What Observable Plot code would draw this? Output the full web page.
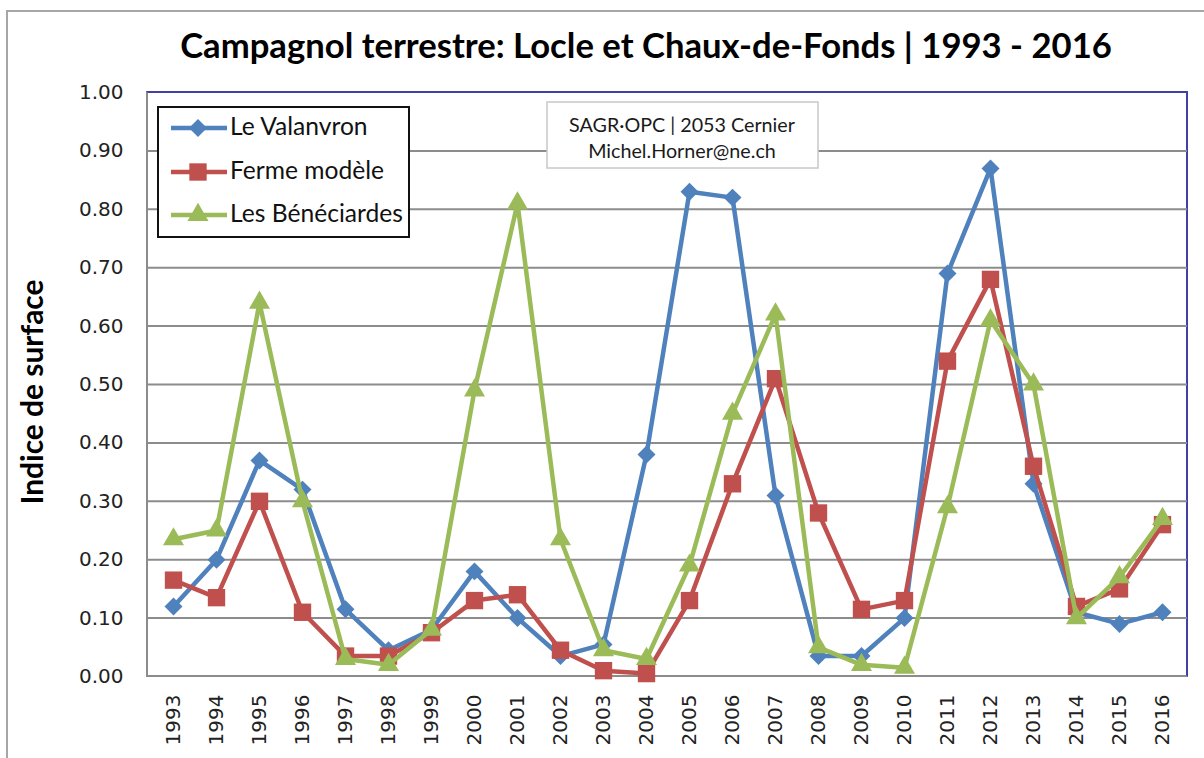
<!DOCTYPE html>
<html>
<head>
<meta charset="utf-8">
<script src="https://cdn.jsdelivr.net/npm/d3@7"></script>
<script src="https://cdn.jsdelivr.net/npm/@observablehq/plot@0.6"></script>
<style>
  body { margin: 0; background: #fff; }
  #chart { position: relative; width: 1204px; height: 758px; overflow: hidden; background: #fff; }
  #outer { position: absolute; left: 6px; top: 10px; width: 1210px; height: 760px; border-left: 2px solid #a6a6a6; border-top: 2px solid #a6a6a6; }
  #plotframe { position: absolute; left: 146px; top: 91px; width: 1042px; height: 586px; box-sizing: border-box;
    border-top: 2px solid #4040a8; border-right: 2px solid #4040a8; border-left: 2px solid #8c8c8c; border-bottom: 2px solid #8c8c8c; }
  #plot { position: absolute; left: 0; top: 0; }
  #overlay { position: absolute; left: 0; top: 0; }
</style>
</head>
<body>
<div id="chart">
  <div id="outer"></div>
  <div id="plotframe"></div>
  <div id="plot"></div>
  <svg id="overlay" width="1204" height="758"></svg>
</div>
<script>
// ---- Data ----
const years = ["1993","1994","1995","1996","1997","1998","1999","2000","2001","2002","2003","2004",
               "2005","2006","2007","2008","2009","2010","2011","2012","2013","2014","2015","2016"];
const valanvron   = [0.12, 0.20, 0.37, 0.32, 0.115, 0.045, 0.08, 0.18, 0.10, 0.035, 0.055, 0.38,
                     0.83, 0.82, 0.31, 0.035, 0.035, 0.10, 0.69, 0.87, 0.33, 0.11, 0.09, 0.11];
const fermeModele = [0.165, 0.135, 0.30, 0.11, 0.035, 0.035, 0.075, 0.13, 0.14, 0.045, 0.01, 0.005,
                     0.13, 0.33, 0.51, 0.28, 0.115, 0.13, 0.54, 0.68, 0.36, 0.12, 0.15, 0.26];
const beneciardes = [0.235, 0.25, 0.64, 0.30, 0.03, 0.02, 0.08, 0.49, 0.81, 0.235, 0.045, 0.03,
                     0.19, 0.45, 0.62, 0.05, 0.02, 0.015, 0.29, 0.61, 0.50, 0.10, 0.17, 0.27];
const seriesNames = ["Le Valanvron", "Ferme modèle", "Les Bénéciardes"];
const yTicks = [0, 0.1, 0.2, 0.3, 0.4, 0.5, 0.6, 0.7, 0.8, 0.9, 1.0];
const gridTicks = [0.1, 0.2, 0.3, 0.4, 0.5, 0.6, 0.7, 0.8, 0.9];
const titleText = "Campagnol terrestre: Locle et Chaux-de-Fonds | 1993 - 2016";
const yLabel = "Indice de surface";
const noteLines = ["SAGR·OPC | 2053 Cernier", "Michel.Horner@ne.ch"];

// ---- Styles ----
const series = [
  {name: seriesNames[0], values: valanvron,   color: "#4f81bd", symbol: "diamond2", d3sym: d3.symbolDiamond2, r: 8.1},
  {name: seriesNames[1], values: fermeModele, color: "#c0504d", symbol: "square",   d3sym: d3.symbolSquare,   r: 9.8},
  {name: seriesNames[2], values: beneciardes, color: "#9bbb59", symbol: "triangle", d3sym: d3.symbolTriangle, r: 7.8}
];

const rows = [];
series.forEach(s => years.forEach((y, i) => rows.push({series: s.name, year: y, value: s.values[i]})));

const marks = [
  Plot.ruleY(gridTicks, {stroke: "#8c8c8c", strokeWidth: 2}),
  Plot.axisY(yTicks, {tickSize: 0, tickPadding: 24, tickFormat: d3.format(".2f"), label: null, fill: "#222"}),
  Plot.axisX(years, {tickSize: 0, tickPadding: 18, tickRotate: -90, label: null, fill: "#222"})
];
series.forEach(s => {
  const data = rows.filter(d => d.series === s.name);
  marks.push(Plot.line(data, {x: "year", y: "value", stroke: s.color, strokeWidth: 4.5, strokeLinejoin: "round"}));
  marks.push(Plot.dot(data, {x: "year", y: "value", symbol: s.symbol, r: s.r, fill: s.color, stroke: "none"}));
});

const chart = Plot.plot({
  width: 1204, height: 758,
  marginLeft: 147, marginRight: 17, marginTop: 92, marginBottom: 82,
  x: {type: "point", domain: years, padding: 0.5},
  y: {domain: [0, 1]},
  style: {fontFamily: "'DejaVu Sans', Verdana, sans-serif", fontSize: "20px", background: "transparent", color: "#222"},
  marks
});
document.getElementById("plot").appendChild(chart);

// ---- Overlay: title, y label, legend, note ----
const ov = d3.select("#overlay");
function fit(sel, target) {
  const node = sel.node();
  const fs = parseFloat(sel.attr("font-size"));
  const w = node.getComputedTextLength();
  if (w > 0) sel.attr("font-size", (fs * target / w).toFixed(2));
}
const calibri = "Lato, 'Open Sans', sans-serif";

const title = ov.append("text").attr("x", 646).attr("y", 58).attr("text-anchor", "middle")
  .attr("font-family", calibri).attr("font-weight", 700).attr("font-size", 32).attr("fill", "#000").text(titleText);
fit(title, 932);

const yl = ov.append("text").attr("transform", "translate(43,392) rotate(-90)").attr("text-anchor", "middle")
  .attr("font-family", calibri).attr("font-weight", 700).attr("font-size", 22).attr("fill", "#000").text(yLabel);
fit(yl, 225);

// legend
ov.append("rect").attr("x", 158).attr("y", 107).attr("width", 251).attr("height", 130)
  .attr("fill", "#fff").attr("stroke", "#111").attr("stroke-width", 2);
const rowYs = [128, 172, 215];
const legTexts = [];
series.forEach((s, i) => {
  const g = ov.append("g");
  g.append("line").attr("x1", 171).attr("x2", 227).attr("y1", rowYs[i]).attr("y2", rowYs[i])
    .attr("stroke", s.color).attr("stroke-width", 4.5);
  g.append("path").attr("transform", `translate(198,${rowYs[i]})`)
    .attr("d", d3.symbol(s.d3sym, Math.PI * s.r * s.r)()).attr("fill", s.color);
  legTexts.push(g.append("text").attr("x", 230).attr("y", rowYs[i] + 7)
    .attr("font-family", calibri).attr("font-size", 20).attr("fill", "#111").text(s.name));
});
{
  const t = legTexts[2];
  fit(t, 173);
  const fs = t.attr("font-size");
  legTexts.forEach(x => x.attr("font-size", fs));
}

// note box
ov.append("rect").attr("x", 547).attr("y", 102).attr("width", 271).attr("height", 66)
  .attr("fill", "#fff").attr("stroke", "#c8c8c8").attr("stroke-width", 1.5);
const n1 = ov.append("text").attr("x", 682).attr("y", 131.5).attr("text-anchor", "middle")
  .attr("font-family", calibri).attr("font-size", 19).attr("fill", "#1a1a1a").text(noteLines[0]);
fit(n1, 226);
ov.append("text").attr("x", 682).attr("y", 157.5).attr("text-anchor", "middle")
  .attr("font-family", calibri).attr("font-size", n1.attr("font-size")).attr("fill", "#1a1a1a").text(noteLines[1]);
</script>
</body>
</html>
